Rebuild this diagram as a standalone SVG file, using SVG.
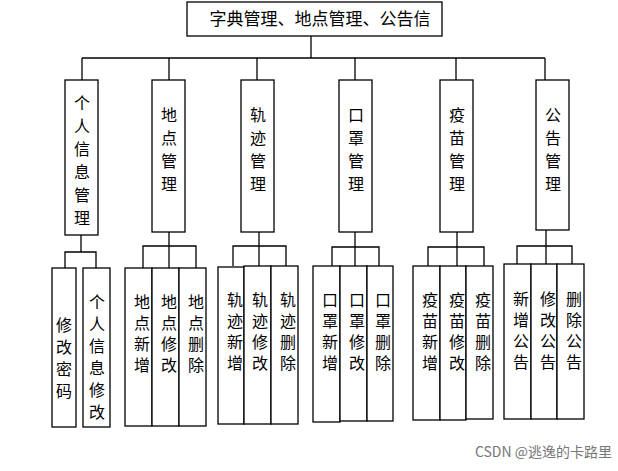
<svg xmlns="http://www.w3.org/2000/svg" width="618" height="471" viewBox="0 0 618 471">
<style>
rect{fill:#fff;stroke:#000;stroke-width:1.3}
line,polyline{stroke:#000;stroke-width:1.3;fill:none}
text{font-family:"Noto Sans CJK SC",sans-serif;font-size:16px;fill:#000;text-anchor:middle}
</style>
<rect width="618" height="471" fill="#fff" style="stroke:none"/>
<g id="connectors">
<line x1="311" y1="36" x2="311" y2="58"/>
<line x1="82" y1="58" x2="545" y2="58"/>
<line x1="82" y1="58" x2="82" y2="80"/><line x1="169" y1="58" x2="169" y2="80"/><line x1="257" y1="58" x2="257" y2="80"/><line x1="355" y1="58" x2="355" y2="80"/><line x1="456" y1="58" x2="456" y2="80"/><line x1="545" y1="58" x2="545" y2="80"/>
<line x1="81" y1="234" x2="81" y2="252"/><polyline points="65,268 65,252 96,252 96,268"/>
<line x1="169" y1="232" x2="169" y2="246"/><polyline points="143,268 143,246 196,246 196,268"/><line x1="169" y1="246" x2="169" y2="268"/>
<line x1="259" y1="232" x2="259" y2="246"/><polyline points="233,266 233,246 286,246 286,266"/><line x1="259" y1="246" x2="259" y2="266"/>
<line x1="355" y1="232" x2="355" y2="247"/><polyline points="332,266 332,247 379,247 379,266"/><line x1="355" y1="247" x2="355" y2="266"/>
<line x1="457" y1="232" x2="457" y2="247"/><polyline points="428,266 428,247 484,247 484,266"/><line x1="457" y1="247" x2="457" y2="266"/>
<line x1="546" y1="230" x2="546" y2="246"/><polyline points="517,264 517,246 572,246 572,264"/><line x1="546" y1="246" x2="546" y2="264"/>
</g>
<g id="root"><rect x="187" y="2" width="255" height="34"/><text x="320" y="25" style="font-size:17px">字典管理、地点管理、公告信</text></g>
<g id="n1"><rect x="65" y="80" width="33" height="155"/><text x="82" y="109"><tspan x="82">个</tspan><tspan x="82" dy="23">人</tspan><tspan x="82" dy="23">信</tspan><tspan x="82" dy="23">息</tspan><tspan x="82" dy="23">管</tspan><tspan x="82" dy="23">理</tspan></text></g>
<g id="n2"><rect x="152" y="80" width="33" height="152"/><text x="169" y="121"><tspan x="169">地</tspan><tspan x="169" dy="23">点</tspan><tspan x="169" dy="23">管</tspan><tspan x="169" dy="23">理</tspan></text></g>
<g id="n3"><rect x="241" y="80" width="33" height="152"/><text x="258" y="121"><tspan x="258">轨</tspan><tspan x="258" dy="23">迹</tspan><tspan x="258" dy="23">管</tspan><tspan x="258" dy="23">理</tspan></text></g>
<g id="n4"><rect x="339" y="80" width="33" height="152"/><text x="356" y="121"><tspan x="356">口</tspan><tspan x="356" dy="23">罩</tspan><tspan x="356" dy="23">管</tspan><tspan x="356" dy="23">理</tspan></text></g>
<g id="n5"><rect x="440" y="80" width="33" height="152"/><text x="457" y="121"><tspan x="457">疫</tspan><tspan x="457" dy="23">苗</tspan><tspan x="457" dy="23">管</tspan><tspan x="457" dy="23">理</tspan></text></g>
<g id="n6"><rect x="536" y="80" width="33" height="150"/><text x="553" y="121"><tspan x="553">公</tspan><tspan x="553" dy="23">告</tspan><tspan x="553" dy="23">管</tspan><tspan x="553" dy="23">理</tspan></text></g>
<g id="c11"><rect x="52" y="268" width="24" height="159"/><text x="64" y="331"><tspan x="64">修</tspan><tspan x="64" dy="22">改</tspan><tspan x="64" dy="22">密</tspan><tspan x="64" dy="22">码</tspan></text></g>
<g id="c12"><rect x="83" y="268" width="27" height="159"/><text x="97" y="308"><tspan x="97">个</tspan><tspan x="97" dy="22">人</tspan><tspan x="97" dy="22">信</tspan><tspan x="97" dy="22">息</tspan><tspan x="97" dy="22">修</tspan><tspan x="97" dy="22">改</tspan></text></g>
<g id="c21"><rect x="125" y="268" width="27" height="158"/><text x="142" y="308"><tspan x="142">地</tspan><tspan x="142" dy="21">点</tspan><tspan x="142" dy="21">新</tspan><tspan x="142" dy="21">增</tspan></text></g>
<g id="c22"><rect x="152" y="268" width="27" height="158"/><text x="169" y="308"><tspan x="169">地</tspan><tspan x="169" dy="21">点</tspan><tspan x="169" dy="21">修</tspan><tspan x="169" dy="21">改</tspan></text></g>
<g id="c23"><rect x="179" y="268" width="27" height="158"/><text x="196" y="308"><tspan x="196">地</tspan><tspan x="196" dy="21">点</tspan><tspan x="196" dy="21">删</tspan><tspan x="196" dy="21">除</tspan></text></g>
<g id="c31"><rect x="218" y="267" width="26" height="157"/><text x="235" y="306"><tspan x="235">轨</tspan><tspan x="235" dy="21">迹</tspan><tspan x="235" dy="21">新</tspan><tspan x="235" dy="21">增</tspan></text></g>
<g id="c32"><rect x="244" y="266" width="27" height="158"/><text x="260" y="306"><tspan x="260">轨</tspan><tspan x="260" dy="21">迹</tspan><tspan x="260" dy="21">修</tspan><tspan x="260" dy="21">改</tspan></text></g>
<g id="c33"><rect x="271" y="266" width="27" height="158"/><text x="288" y="306"><tspan x="288">轨</tspan><tspan x="288" dy="21">迹</tspan><tspan x="288" dy="21">删</tspan><tspan x="288" dy="21">除</tspan></text></g>
<g id="c41"><rect x="313" y="266" width="27" height="156"/><text x="330" y="306"><tspan x="330">口</tspan><tspan x="330" dy="21">罩</tspan><tspan x="330" dy="21">新</tspan><tspan x="330" dy="21">增</tspan></text></g>
<g id="c42"><rect x="340" y="266" width="27" height="155"/><text x="357" y="306"><tspan x="357">口</tspan><tspan x="357" dy="21">罩</tspan><tspan x="357" dy="21">修</tspan><tspan x="357" dy="21">改</tspan></text></g>
<g id="c43"><rect x="367" y="266" width="26" height="155"/><text x="383" y="306"><tspan x="383">口</tspan><tspan x="383" dy="21">罩</tspan><tspan x="383" dy="21">删</tspan><tspan x="383" dy="21">除</tspan></text></g>
<g id="c51"><rect x="413" y="266" width="27" height="154"/><text x="430" y="306"><tspan x="430">疫</tspan><tspan x="430" dy="21">苗</tspan><tspan x="430" dy="21">新</tspan><tspan x="430" dy="21">增</tspan></text></g>
<g id="c52"><rect x="440" y="266" width="26" height="154"/><text x="457" y="306"><tspan x="457">疫</tspan><tspan x="457" dy="21">苗</tspan><tspan x="457" dy="21">修</tspan><tspan x="457" dy="21">改</tspan></text></g>
<g id="c53"><rect x="466" y="266" width="27" height="153"/><text x="483" y="306"><tspan x="483">疫</tspan><tspan x="483" dy="21">苗</tspan><tspan x="483" dy="21">删</tspan><tspan x="483" dy="21">除</tspan></text></g>
<g id="c61"><rect x="504" y="264" width="27" height="155"/><text x="521" y="305"><tspan x="521">新</tspan><tspan x="521" dy="21">增</tspan><tspan x="521" dy="21">公</tspan><tspan x="521" dy="21">告</tspan></text></g>
<g id="c62"><rect x="531" y="264" width="26" height="155"/><text x="548" y="305"><tspan x="548">修</tspan><tspan x="548" dy="21">改</tspan><tspan x="548" dy="21">公</tspan><tspan x="548" dy="21">告</tspan></text></g>
<g id="c63"><rect x="557" y="264" width="27" height="155"/><text x="574" y="305"><tspan x="574">删</tspan><tspan x="574" dy="21">除</tspan><tspan x="574" dy="21">公</tspan><tspan x="574" dy="21">告</tspan></text></g>
<text x="612" y="457" style="text-anchor:end;font-size:14px;fill:#777">CSDN @逃逸的卡路里</text>
</svg>
